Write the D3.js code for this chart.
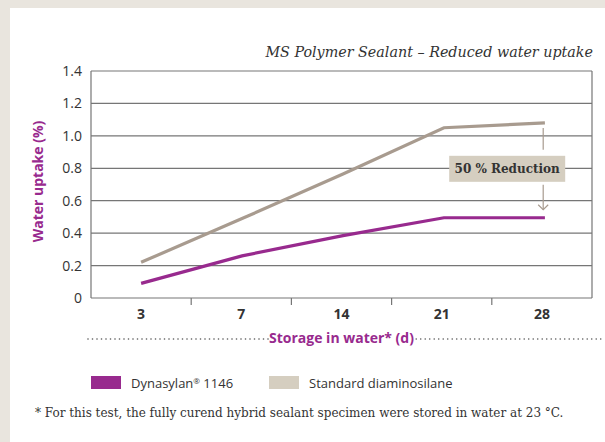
<!DOCTYPE html>
<html>
<head>
<meta charset="utf-8">
<script src="https://cdn.jsdelivr.net/npm/d3@7"></script>
<style>
  html, body { margin: 0; padding: 0; background: #e9e5de; }
  #chart { width: 605px; height: 442px; overflow: hidden; }
</style>
</head>
<body>
<div id="chart"></div>
<script>
// Data
const days = [3, 7, 14, 21, 28];
const dynasylan = [0.09, 0.26, 0.385, 0.495, 0.495];
const standard = [0.22, 0.49, 0.765, 1.05, 1.08];
const yTicks = [0, 0.2, 0.4, 0.6, 0.8, 1.0, 1.2, 1.4];
const seriesNames = ["Dynasylan", "Standard diaminosilane"];
const colors = ["#982a8e", "#a89b8f"];
const swatchColors = ["#982a8e", "#d5cec0"];

const W = 605, H = 442;
const margin = { top: 71, right: 13, bottom: 144, left: 91 };
const plotW = W - margin.left - margin.right;
const plotH = H - margin.top - margin.bottom;

const svg = d3.select("#chart")
    .append("svg")
    .attr("width", W)
    .attr("height", H);

// white panel on beige page
svg.append("rect")
    .attr("x", 10).attr("y", 8)
    .attr("width", W - 10).attr("height", H - 8)
    .attr("fill", "#ffffff");

const g = svg.append("g")
    .attr("transform", "translate(" + margin.left + "," + margin.top + ")");

const x = d3.scaleBand().domain(days).range([0, plotW]).padding(0);
const xLine = d3.scalePoint().domain(days)
    .range([x(days[0]) + x.bandwidth() / 2, x(days[4]) + x.bandwidth() / 2 + 3]);
const y = d3.scaleLinear().domain([0, 1.4]).range([plotH, 0]);

// gridlines
g.selectAll(".grid")
    .data(yTicks)
    .enter()
    .append("line")
    .attr("x1", 0).attr("x2", plotW)
    .attr("y1", d => y(d)).attr("y2", d => y(d))
    .attr("stroke", "#767676")
    .attr("stroke-width", 1.2);

// box sides
g.append("line").attr("x1", 0).attr("x2", 0).attr("y1", 0).attr("y2", plotH)
    .attr("stroke", "#767676").attr("stroke-width", 1.2);
g.append("line").attr("x1", plotW).attr("x2", plotW).attr("y1", 0).attr("y2", plotH)
    .attr("stroke", "#767676").attr("stroke-width", 1.2);

// y tick labels
g.selectAll(".ylab")
    .data(yTicks)
    .enter()
    .append("text")
    .attr("x", -9)
    .attr("y", d => y(d))
    .attr("dy", "0.36em")
    .attr("text-anchor", "end")
    .style("font-family", "'Open Sans', sans-serif")
    .style("font-size", "14px")
    .style("fill", "#333")
    .text(d => d === 0 ? "0" : d3.format(".1f")(d));

// x axis
const xAxis = g.append("g")
    .attr("transform", "translate(0," + plotH + ")")
    .call(d3.axisBottom(x).tickSize(0).tickPadding(11));
xAxis.select(".domain").remove();
xAxis.selectAll("text")
    .style("font-family", "'Open Sans', sans-serif")
    .style("font-size", "14px")
    .style("font-weight", "bold")
    .style("fill", "#333");

// tick marks between bands
g.selectAll(".xtick")
    .data(days.slice(1))
    .enter()
    .append("line")
    .attr("x1", d => x(d)).attr("x2", d => x(d))
    .attr("y1", plotH).attr("y2", plotH + 7)
    .attr("stroke", "#767676")
    .attr("stroke-width", 1.2);

// lines
const line = d3.line()
    .x((d, i) => xLine(days[i]))
    .y(d => y(d));

g.append("path")
    .attr("d", line(standard))
    .attr("fill", "none")
    .attr("stroke", colors[1])
    .attr("stroke-width", 3.2);

g.append("path")
    .attr("d", line(dynasylan))
    .attr("fill", "none")
    .attr("stroke", colors[0])
    .attr("stroke-width", 3.2);

// reduction annotation
const ax = xLine(28) - 1.7;
const topY = y(standard[4]) + 5;
const tipY = y(dynasylan[4]) - 8;
const boxCy = y((standard[4] + dynasylan[4]) / 2) - 1.5;
const boxW = 116, boxH = 26, boxCx = ax - 36;

g.append("line")
    .attr("x1", ax).attr("x2", ax)
    .attr("y1", topY).attr("y2", boxCy - boxH / 2 - 6)
    .attr("stroke", "#a89b8f").attr("stroke-width", 1.2);
g.append("line")
    .attr("x1", ax).attr("x2", ax)
    .attr("y1", boxCy + boxH / 2 + 3).attr("y2", tipY)
    .attr("stroke", "#a89b8f").attr("stroke-width", 1.2);
g.append("path")
    .attr("d", "M" + (ax - 5) + "," + (tipY - 5) + "L" + ax + "," + tipY + "L" + (ax + 5) + "," + (tipY - 5))
    .attr("fill", "none")
    .attr("stroke", "#a89b8f").attr("stroke-width", 1.2);
g.append("rect")
    .attr("x", boxCx - boxW / 2).attr("y", boxCy - boxH / 2)
    .attr("width", boxW).attr("height", boxH)
    .attr("fill", "#d5cec0");
g.append("text")
    .attr("x", boxCx).attr("y", boxCy)
    .attr("dy", "0.36em")
    .attr("text-anchor", "middle")
    .style("font-family", "'DejaVu Serif', serif")
    .style("font-size", "12px")
    .style("font-weight", "bold")
    .style("fill", "#333")
    .text("50 % Reduction");

// title
svg.append("text")
    .attr("x", 593).attr("y", 57)
    .attr("text-anchor", "end")
    .style("font-family", "'DejaVu Serif', serif")
    .style("font-style", "italic")
    .style("font-size", "14.3px")
    .style("fill", "#333")
    .text("MS Polymer Sealant \u2013 Reduced water uptake");

// y axis title
svg.append("text")
    .attr("transform", "translate(43," + (margin.top + plotH / 2 - 3) + ") rotate(-90)")
    .attr("text-anchor", "middle")
    .style("font-family", "'Open Sans', sans-serif")
    .style("font-size", "14px")
    .style("font-weight", "bold")
    .style("fill", colors[0])
    .text("Water uptake (%)");

// x axis title with dotted rule
const xTitle = svg.append("text")
    .attr("x", margin.left + plotW / 2).attr("y", 343)
    .attr("text-anchor", "middle")
    .style("font-family", "'Open Sans', sans-serif")
    .style("font-size", "14px")
    .style("font-weight", "bold")
    .style("fill", colors[0])
    .text("Storage in water* (d)");
const tb = xTitle.node().getBBox();
const dotsLeft = d3.range(88, tb.x - 1, 4.5);
const dotsRight = d3.range(tb.x + tb.width + 2, 603, 4.5);
svg.selectAll(".dot")
    .data(dotsLeft.concat(dotsRight))
    .enter()
    .append("circle")
    .attr("cx", d => d).attr("cy", 339)
    .attr("r", 0.8)
    .attr("fill", "#555");

// legend
const legend = svg.selectAll(".legend")
    .data(seriesNames)
    .enter()
    .append("g")
    .attr("transform", (d, i) => "translate(" + (91 + i * 178) + ",376)");
legend.append("rect")
    .attr("width", 30).attr("height", 13)
    .attr("fill", (d, i) => swatchColors[i]);
const ltext = legend.append("text")
    .attr("x", 40).attr("y", 11.5)
    .style("font-family", "'Open Sans', sans-serif")
    .style("font-size", "13px")
    .style("fill", "#333")
    .text(d => d);
// registered mark and product number on the first entry
const first = ltext.filter((d, i) => i === 0);
first.append("tspan")
    .attr("dy", -4)
    .style("font-size", "8px")
    .text("\u00AE");
first.append("tspan")
    .attr("dy", 4)
    .text(" 1146");

// footnote
svg.append("text")
    .attr("x", 35).attr("y", 417)
    .style("font-family", "'DejaVu Serif', serif")
    .style("font-size", "12px")
    .style("fill", "#333")
    .text("* For this test, the fully curend hybrid sealant specimen were stored in water at 23 \u00B0C.");
</script>
</body>
</html>
